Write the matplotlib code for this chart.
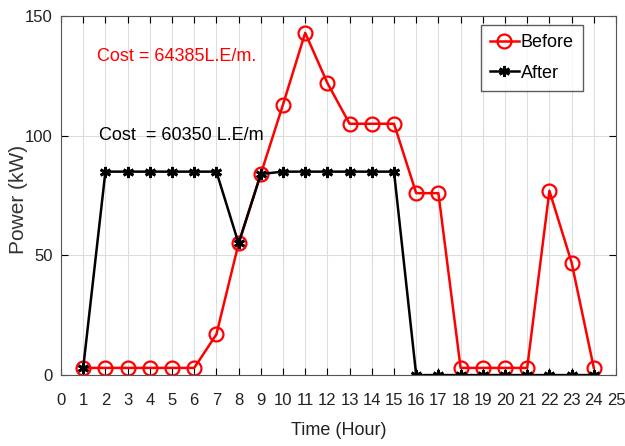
import matplotlib
matplotlib.use('Agg')
import matplotlib.pyplot as plt
import numpy as np

plt.rcParams['font.family'] = ['Liberation Sans', 'DejaVu Sans']

hours = list(range(1, 25))
before = [3, 3, 3, 3, 3, 3, 17, 55, 84, 113, 143, 122, 105, 105, 105, 76, 76, 3, 3, 3, 3, 77, 47, 3]
after = [3, 85, 85, 85, 85, 85, 85, 55, 84, 85, 85, 85, 85, 85, 85, 0, 0, 0, 0, 0, 0, 0, 0, 0]

fig = plt.figure(figsize=(6.25, 4.46), dpi=100)
ax = fig.add_axes([0.0976, 0.159, 0.888, 0.805])

ax.plot(hours, before, color='red', lw=1.8, marker='o', ms=10, mfc='none', mec='red', mew=1.6, label='Before')
ax.plot(hours, after, color='black', lw=1.8, marker=(6, 2, 0), ms=8, mec='black', mew=2, label='After')

ax.set_xlim(0, 25)
ax.set_ylim(0, 150)
ax.set_xticks(np.arange(0, 26, 1))
ax.set_yticks([0, 50, 100, 150])
ax.tick_params(direction='in', labelsize=12, top=True, right=True, length=5, labelcolor='#222222')
ax.tick_params(axis='x', pad=13)
ax.tick_params(axis='y', pad=6)
ax.grid(True, color='#dddddd', lw=0.8)
ax.set_axisbelow(True)
for s in ax.spines.values():
    s.set_color('#555555')

ax.set_xlabel('Time (Hour)', fontsize=13, labelpad=10, color='#222222')
ax.set_ylabel('Power (kW)', fontsize=15, color='#333333')
ax.yaxis.set_label_coords(-0.06, 0.49)

ax.text(1.6, 133, 'Cost = 64385L.E/m.', color='red', fontsize=13, va='center')
ax.text(1.7, 100, 'Cost  = 60350 L.E/m', color='black', fontsize=13, va='center')

leg = ax.legend(loc='upper right', bbox_to_anchor=(0.94, 0.975), fontsize=13, frameon=True, fancybox=False,
                edgecolor='#333333', handlelength=1.6, handletextpad=0.1, borderpad=0.5, labelspacing=0.75,
                borderaxespad=0)
leg.get_frame().set_linewidth(1.0)

fig.savefig('out.png', dpi=100)
